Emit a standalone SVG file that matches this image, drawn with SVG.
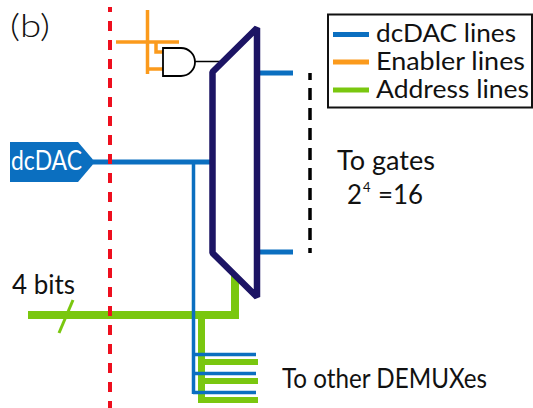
<svg xmlns="http://www.w3.org/2000/svg" width="533" height="408" viewBox="0 0 533 408">
<style>
text{font-family:Lato,"Open Sans","Liberation Sans",sans-serif;fill:#111}
.l{fill:none;stroke-linecap:butt}
.b{stroke:#0b6fc0}
.o{stroke:#fb9a1c}
.g{stroke:#7ac70f}
.t{font-size:27px}
.k{font-size:25.500px}
</style>
<rect width="533" height="408" fill="#fff"/>
<g id="connectors">
<path class="l g" stroke-width="8" d="M28 315H235V275" stroke-linejoin="miter"/>
<path class="l g" stroke-width="7" d="M201.500 315V403"/>
<path class="l g" stroke-width="6" d="M201 362H258M201 381H258M201 400H258"/>
<path class="l g" stroke-width="3" d="M73 300L59 333"/>
<path class="l b" stroke-width="5" d="M93 162H210"/>
<path class="l b" stroke-width="3.500" d="M193.500 162V394"/>
<path class="l b" stroke-width="3.500" d="M193 354.500H256M193 373.500H256M193 392.500H256"/>
<path class="l b" stroke-width="5" d="M259 73H293M259 252H293"/>
<path class="l o" stroke-width="3.500" d="M147.500 10V74M116 42H179M156 42V52H163M148 69H163"/>
<path class="l" stroke="#000" stroke-width="1.500" d="M195 61.500H222.500"/>
<path class="l" stroke="#ee0f1e" stroke-width="4" stroke-dasharray="5 9 10 9 10 9 10 9 10 9 10 9 10 9 10 9 10 9 10 9 10 9 10 9 10 9 10 9 10 9 10 9 10 9 10 9 10 9 10 9 10 9 10 9" d="M110 7V408"/>
<path class="l" stroke="#000" stroke-width="3.500" stroke-dasharray="12 8" stroke-dashoffset="5" d="M310 73V253"/>
</g>
<g id="and-gate"><path d="M163 48H181A14 14 0 0 1 181 76H163Z" fill="#fff" stroke="#000" stroke-width="1.800"/></g>
<g id="demux"><path d="M212.500 253V72L257 28V297Z" fill="none" stroke="#1c1464" stroke-width="6.500" stroke-linejoin="bevel"/></g>
<g id="dcdac"><polygon points="10,142 78,142 95,162 78,182 10,182" fill="#0b6fc0"/><text x="11" y="170" style="font-size:26px;fill:#fff" textLength="71" lengthAdjust="spacingAndGlyphs">dcDAC</text></g>
<g id="legend">
<rect x="328" y="14.500" width="204" height="93" fill="none" stroke="#111" stroke-width="2"/>
<path class="l b" stroke-width="5" d="M333 34.500H369"/>
<path class="l o" stroke-width="5" d="M333 62H369"/>
<path class="l g" stroke-width="5" d="M333 90H369"/>
<text class="k" x="376" y="42" textLength="140" lengthAdjust="spacingAndGlyphs">dcDAC lines</text>
<text class="k" x="376" y="70" textLength="149" lengthAdjust="spacingAndGlyphs">Enabler lines</text>
<text class="k" x="376" y="98" textLength="153" lengthAdjust="spacingAndGlyphs">Address lines</text>
</g>
<g id="labels">
<text x="10" y="37" style="font-size:32px;font-weight:300" textLength="40" lengthAdjust="spacingAndGlyphs">(b)</text>
<text class="t" x="12" y="294" textLength="63" lengthAdjust="spacingAndGlyphs">4 bits</text>
<text class="t" x="337" y="170" textLength="98" lengthAdjust="spacingAndGlyphs">To gates</text>
<text class="t" x="347" y="204" textLength="15" lengthAdjust="spacingAndGlyphs">2</text><text x="363" y="192" style="font-size:13px">4</text><text class="t" x="378" y="204" textLength="45" lengthAdjust="spacingAndGlyphs">=16</text>
<text class="t" x="282" y="388" textLength="205" lengthAdjust="spacingAndGlyphs">To other DEMUXes</text>
</g>
</svg>
